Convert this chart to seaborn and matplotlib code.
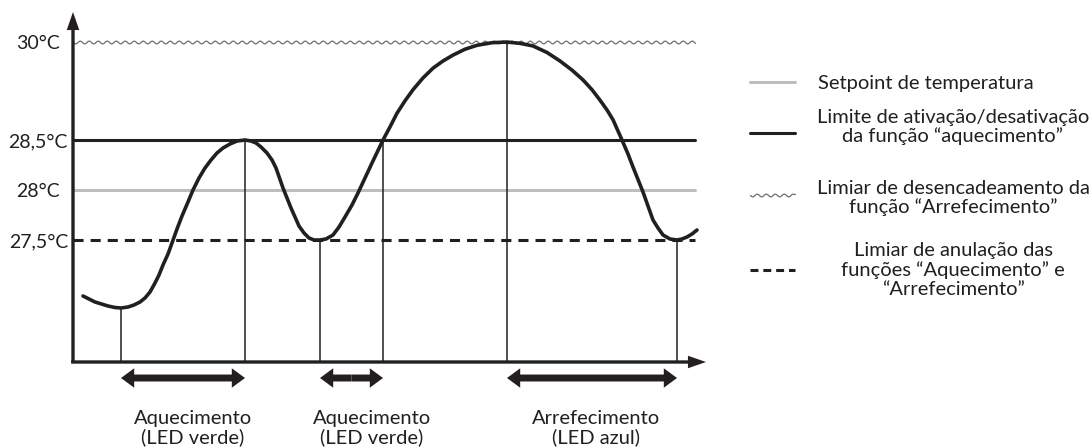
import numpy as np
import matplotlib
matplotlib.use("Agg")
import matplotlib.pyplot as plt
from matplotlib.patches import FancyArrowPatch
import seaborn as sns

# temperature curve (time in arbitrary units, °C)
curve_t = [10, 22, 35, 42, 48, 55, 61, 67, 72, 77, 82, 86, 90, 95, 99, 104, 109,
           115, 120, 126, 132, 138, 144, 150, 157, 164, 172, 178, 183, 188, 194,
           199, 203, 210, 218, 226, 231, 236, 241, 247, 253, 260, 266, 272, 279,
           285, 292, 299, 310, 317, 324, 332, 340, 350, 360, 370, 380, 392, 404,
           419, 434, 447, 460, 474, 487, 499, 510, 519, 527, 534, 540, 549, 555,
           560, 570, 580, 585, 590, 597, 604, 609, 614, 619, 624]
curve_T = [26.94, 26.88, 26.84, 26.825, 26.82, 26.83, 26.85, 26.88, 26.92, 26.98,
           27.07, 27.15, 27.25, 27.36, 27.47, 27.61, 27.74, 27.88, 28.00, 28.12,
           28.22, 28.30, 28.37, 28.42, 28.46, 28.49, 28.50, 28.49, 28.47, 28.43,
           28.37, 28.30, 28.22, 28.02, 27.82, 27.64, 27.57, 27.52, 27.50, 27.50,
           27.51, 27.55, 27.63, 27.73, 27.85, 27.97, 28.12, 28.27, 28.50, 28.70,
           28.91, 29.10, 29.27, 29.45, 29.60, 29.71, 29.80, 29.89, 29.95, 29.99,
           30.00, 29.98, 29.94, 29.84, 29.71, 29.57, 29.42, 29.27, 29.11, 28.96,
           28.81, 28.50, 28.36, 28.23, 27.98, 27.70, 27.62, 27.55, 27.51, 27.50,
           27.51, 27.53, 27.56, 27.60]

# threshold levels and their legend texts
level_values = [28.0, 28.5, 30.0, 27.5]
level_names = [
    "Setpoint de temperatura",
    "Limite de ativação/desativação\nda função “aquecimento”",
    "Limiar de desencadeamento da\nfunção “Arrefecimento”",
    "Limiar de anulação das\nfunções “Aquecimento” e\n“Arrefecimento”",
]
tick_values = [27.5, 28.0, 28.5, 30.0]
tick_labels = ["27,5°C", "28°C", "28,5°C", "30°C"]

# moments where the curve crosses / touches a threshold
event_t = [48, 172, 247, 310, 434, 604]
event_T = [26.82, 28.5, 27.5, 28.5, 30.0, 27.5]

# active phases
phase_start = [48, 247, 434]
phase_end = [172, 310, 604]
phase_labels = ["Aquecimento\n(LED verde)", "Aquecimento\n(LED verde)",
                "Arrefecimento\n(LED azul)"]

INK = "#231f20"
GREY = "#bcbec0"
WAVE = "#6d6e71"


def fwd(v):
    # upper band (above 28,5 °C) is drawn compressed in the diagram
    v = np.asarray(v, dtype=float)
    return np.where(v <= 28.5, v, 28.5 + (v - 28.5) * 0.653)


def inv(v):
    v = np.asarray(v, dtype=float)
    return np.where(v <= 28.5, v, 28.5 + (v - 28.5) / 0.653)


sns.set_theme(style="white")
plt.rcParams["font.family"] = ["Lato", "DejaVu Sans"]

W, H = 1091, 447
fig = plt.figure(figsize=(W / 100, H / 100), dpi=100)

# legend layer in pixel coordinates
lax = fig.add_axes([0, 0, 1, 1], zorder=0)
lax.set_xlim(0, W)
lax.set_ylim(H, 0)
lax.axis("off")

ax = fig.add_axes([73 / W, (H - 362) / H, (706 - 73) / W, (362 - 12) / H], zorder=1)
ax.patch.set_alpha(0)

styles = {
    28.0: dict(color=GREY, lw=2.2, ls="-"),
    28.5: dict(color=INK, lw=2.2, ls="-"),
    30.0: dict(color=WAVE, lw=0.9, ls="-"),
    27.5: dict(color=INK, lw=2.2, ls=(0, (3.3, 2.3))),
}
legend_dash = (0, (2.6, 1.6))

# threshold lines
line_end = 622
for v in level_values:
    ln, = ax.plot([0, line_end], [v, v], zorder=2, **styles[v])
    if v == 30.0:
        ln.set_sketch_params(1.4, 9, 1)

# temperature curve
sns.lineplot(x=curve_t, y=curve_T, sort=False, color=INK, lw=2.6, ax=ax,
             zorder=5, solid_joinstyle="round", solid_capstyle="round")

ax.set_yscale("function", functions=(fwd, inv))
ax.set_xlim(0, 633)
ax.set_ylim(26.28, 30.46)
y_floor = 26.28

# drop lines from the curve to the time axis
ax.vlines(event_t, y_floor, event_T, color=INK, lw=1.1, zorder=3)

ax.set_xticks([])
ax.set_yticks(tick_values, tick_labels)
ax.tick_params(axis="y", length=0, pad=25, labelsize=14, colors=INK)
for lbl in ax.get_yticklabels():
    lbl.set_ha("center")
ax.set_xlabel("")
ax.set_ylabel("")
sns.despine(ax=ax, left=True, bottom=True)

# axes drawn as arrows
for a, b in [((0, 0), (0, 1)), ((-0.003, 0), (1, 0))]:
    ax.add_patch(FancyArrowPatch(
        a, b, transform=ax.transAxes,
        arrowstyle="simple,head_length=13,head_width=9,tail_width=2.4",
        mutation_scale=1, lw=0, color=INK, clip_on=False,
        shrinkA=0, shrinkB=0, zorder=6))

# phase arrows and labels below the time axis
arrow_y = 26.12
label_y = 25.62
label_x = [120, 299, 523]
for s, e, lab, lx in zip(phase_start, phase_end, phase_labels, label_x):
    mid = (s + e) / 2
    for end in (s, e):
        ax.add_patch(FancyArrowPatch(
            (mid, arrow_y), (end, arrow_y), transform=ax.transData,
            arrowstyle="simple,head_length=9.5,head_width=14,tail_width=5",
            mutation_scale=1, lw=0, color=INK, clip_on=False,
            shrinkA=0, shrinkB=0))
    ax.text(lx, label_y, lab, ha="center", va="center", fontsize=14.5,
            linespacing=1.05, color=INK, clip_on=False)

# legend
key_y = [82, 133, 195, 270]
text_y = [84, 127, 198, 270]
for v, name, ky, ty in zip(level_values, level_names, key_y, text_y):
    st = dict(styles[v])
    if v == 27.5:
        st["ls"] = legend_dash
    ln, = lax.plot([750, 795], [ky, ky], **st)
    if v == 30.0:
        ln.set_sketch_params(1.4, 9, 1)
    if "\n" in name:
        lax.text(953, ty, name, ha="center", va="center", fontsize=14.5,
                 linespacing=1.12, color=INK, multialignment="center")
    else:
        lax.text(818, ty, name, ha="left", va="center", fontsize=14.5, color=INK)

fig.savefig("out.png", dpi=100)
